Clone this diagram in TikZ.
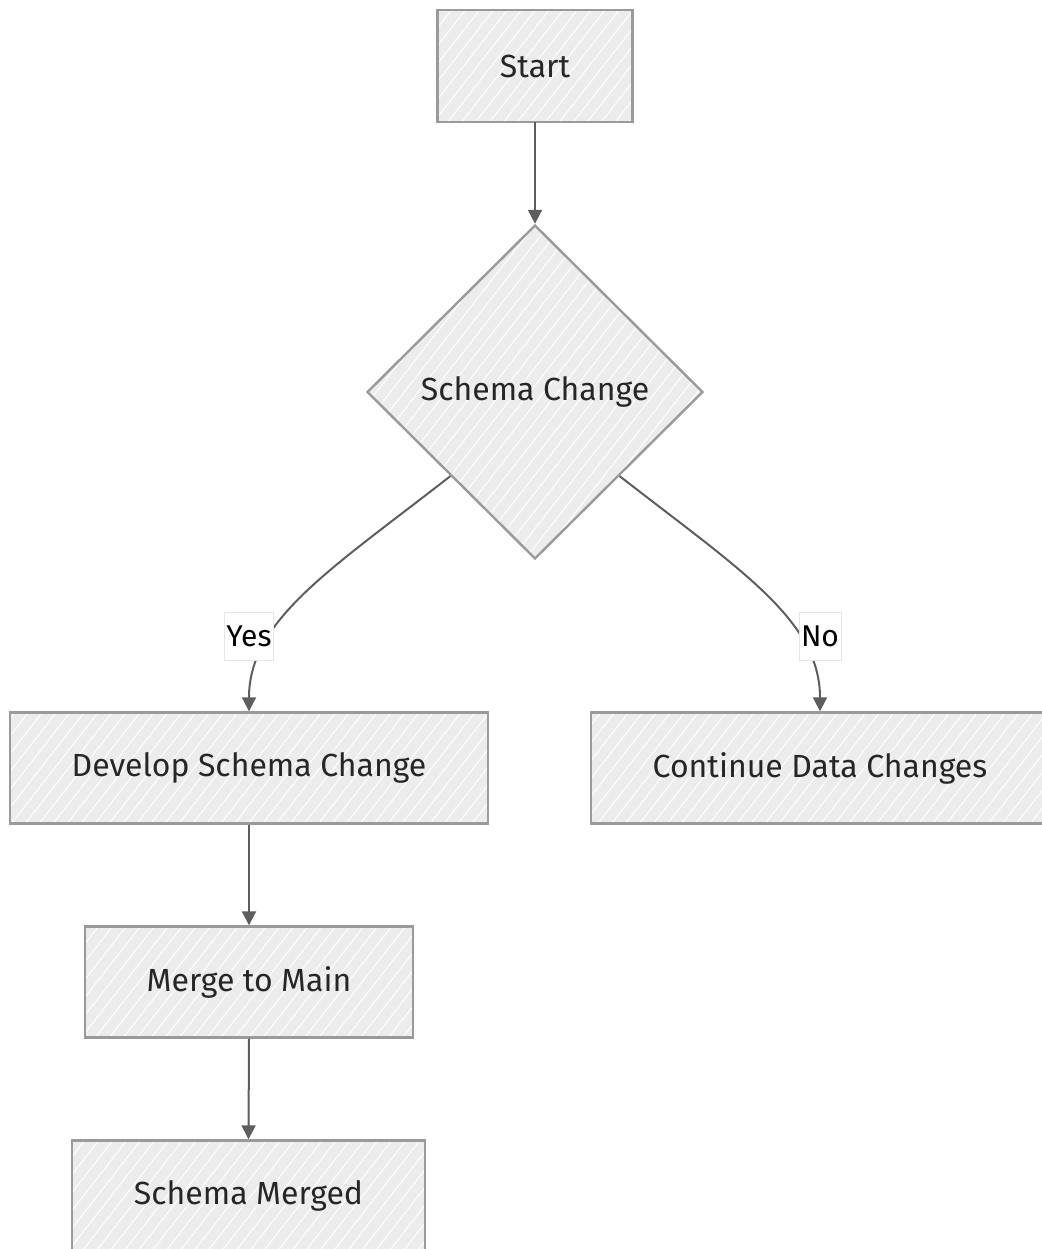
\documentclass[tikz,border=0pt]{standalone}
\usepackage{fontspec}
\setmainfont{Fira Sans}
\usetikzlibrary{shapes.geometric,arrows.meta,patterns.meta}
\definecolor{boxfill}{HTML}{ECECEC}
\definecolor{boxline}{HTML}{9A9A9A}
\definecolor{edgecol}{HTML}{5E5E5E}
\definecolor{txt}{HTML}{262626}
\tikzset{
  hatch/.style={preaction={fill=boxfill},
    pattern={Lines[angle=52,distance=11pt,line width=1pt]},pattern color=white},
  procbox/.style={draw=boxline,line width=2.4pt,hatch,inner sep=0pt,
    font=\fontsize{32}{36}\selectfont,text=txt},
  decbox/.style={diamond,aspect=1,draw=boxline,line width=2.4pt,hatch,inner sep=0pt,
    minimum width=336pt,minimum height=334pt,font=\fontsize{32}{36}\selectfont,text=txt},
  elabel/.style={fill=white,draw=gray!20,line width=0.6pt,inner sep=2pt,
    minimum height=48pt,font=\fontsize{30}{34}\selectfont,text=black},
  arrow/.style={draw=edgecol,line width=2pt,-{Triangle[length=14pt,width=14pt]}},
}
\begin{document}
\begin{tikzpicture}[x=1pt,y=-1pt]
\useasboundingbox (0,0) rectangle (1041,1249);
\node[procbox,minimum width=195pt,minimum height=112pt] (start) at (535,66) {Start};
\node[decbox] (dec) at (535,392) {Schema Change};
\node[procbox,minimum width=478pt,minimum height=111pt] (dev) at (249,768) {Develop Schema Change};
\node[procbox,minimum width=458pt,minimum height=111pt] (cont) at (820,768) {Continue Data Changes};
\node[procbox,minimum width=328pt,minimum height=111pt] (merge) at (249,982) {Merge to Main};
\node[procbox,minimum width=353pt,minimum height=111pt] (merged) at (248.5,1196) {Schema Merged};
\draw[arrow] (start.south) -- (dec.north);
\draw[arrow] (dec.south west) .. controls (330,570) and (249,620) .. (dev.north);
\draw[arrow] (dec.south east) .. controls (740,570) and (820,620) .. (cont.north);
\draw[arrow] (dev.south) -- (merge.north);
\draw[arrow] (merge.south) -- (merged.north);
\node[elabel,minimum width=48pt] (yes) at (249,636) {Yes};
\node[elabel,minimum width=40pt] (no) at (820,636) {No};
\end{tikzpicture}
\end{document}
